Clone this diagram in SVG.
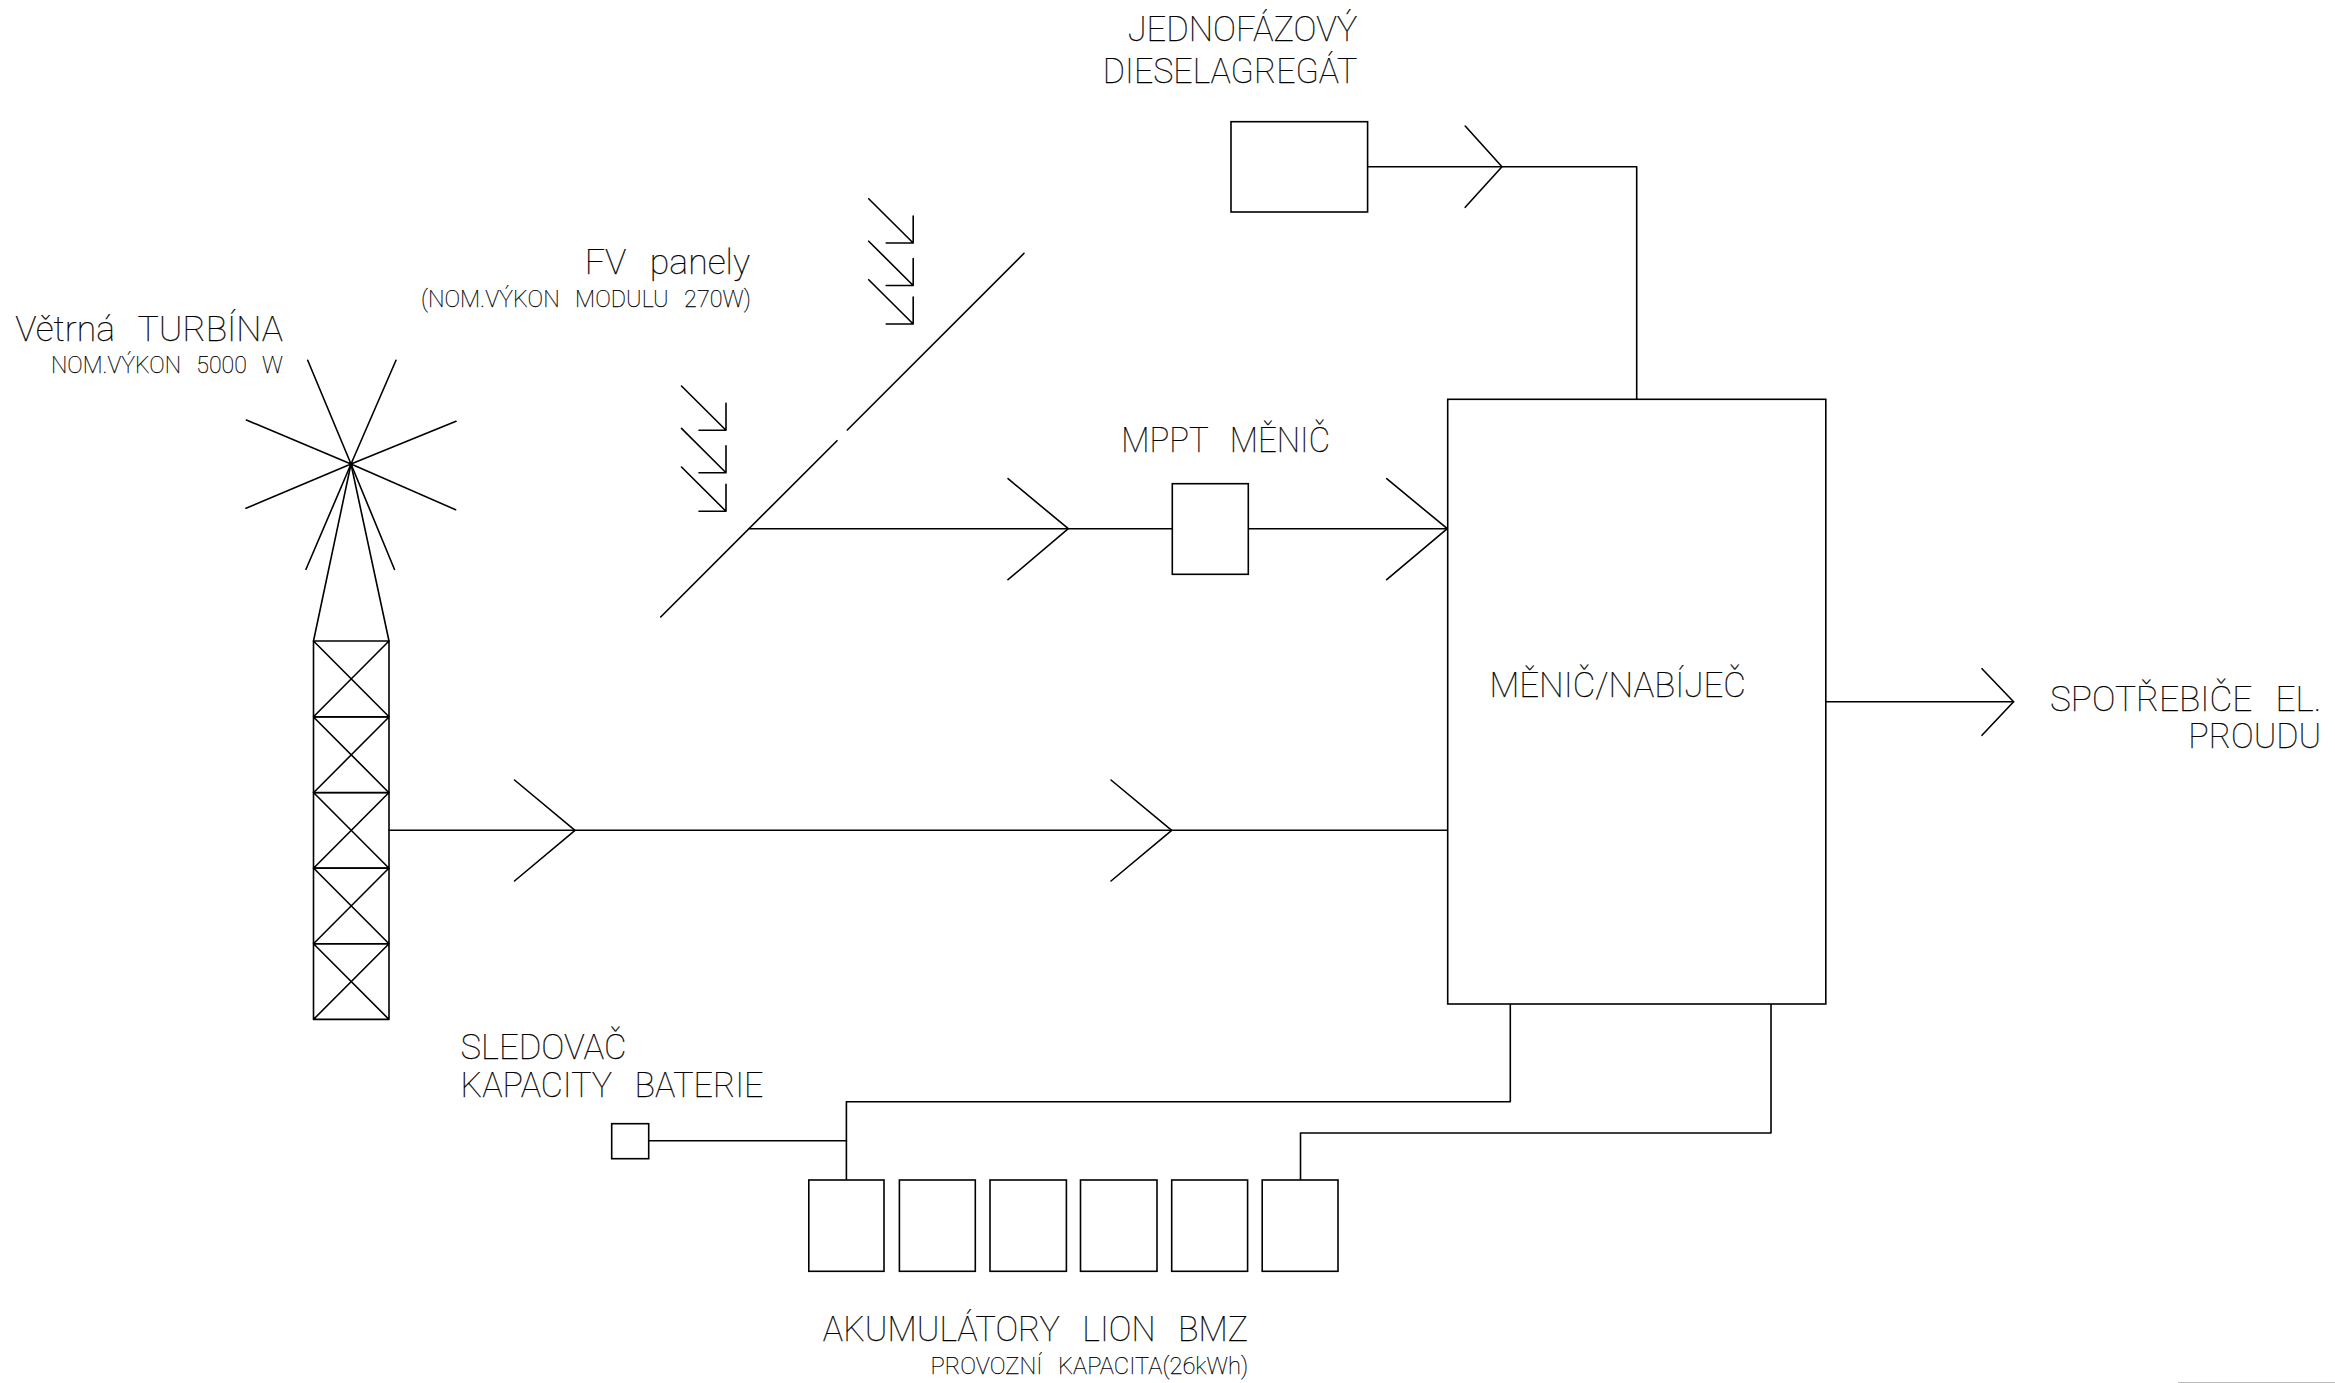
<svg xmlns="http://www.w3.org/2000/svg" width="2335" height="1383" viewBox="0 0 2335 1383">
<style>
.s{fill:none;stroke:#000;stroke-width:1.6;stroke-linecap:round;stroke-linejoin:round}
.b{fill:#fff;stroke:#000;stroke-width:1.6}
text{font-family:"Roboto","Liberation Sans",sans-serif;font-weight:100;fill:#000;stroke:#000;stroke-width:.25;word-spacing:.42em}
.l{font-size:34.5px}
.m{font-size:23px}
</style>
<defs>
<path id="sun" class="s" d="M0 0L44.5 44.3V17.3M44.5 44.3H17.5"/>
<path id="cell" class="s" d="M0 0H75.5V75.7H0ZM0 0L75.5 75.7M75.5 0L0 75.7"/>
</defs>
<rect width="2335" height="1383" fill="#fff"/>
<g id="connectors">
<path class="s" d="M389 830.3H1447.7"/>
<path class="s" d="M514.5 780L575 830.3L514.5 881"/>
<path class="s" d="M1111 780L1171.7 830.3L1111 881"/>
<path class="s" d="M749 528.7H1172.3"/>
<path class="s" d="M1008 478.7L1068.3 528.7L1008 579.7"/>
<path class="s" d="M1248.3 528.7H1447.5"/>
<path class="s" d="M1386.7 478.7L1447.3 528.7L1386.7 579.7"/>
<path class="s" d="M1367.6 166.7H1636.7V399.3"/>
<path class="s" d="M1465.2 126L1502 166.7L1465.2 207.3"/>
<path class="s" d="M1825.8 701.7H2013.6"/>
<path class="s" d="M1982 668.7L2013.6 701.7L1982 735.3"/>
<path class="s" d="M1510.3 1004V1101.7H846.4V1180"/>
<path class="s" d="M648.7 1140.7H846.4"/>
<path class="s" d="M1771 1004V1133H1300.5V1180"/>
</g>
<g id="turbine">
<path class="s" d="M351 464L307.7 360.3M351 464L396 360.3M351 464L246.4 420M351 464L456 421.3M351 464L246 508.3M351 464L455.6 509.7M351 464L306 569.3M351 464L394.4 569.3"/>
<path class="s" d="M313.5 641L351 464L389 641"/>
<use href="#cell" x="313.5" y="641"/>
<use href="#cell" x="313.5" y="717"/>
<use href="#cell" x="313.5" y="792.5"/>
<use href="#cell" x="313.5" y="868"/>
<use href="#cell" x="313.5" y="943.7"/>
<text class="l" x="15.3" y="341" textLength="267.7" lengthAdjust="spacingAndGlyphs">Větrná TURBÍNA</text>
<text class="m" x="51" y="373.3" textLength="232" lengthAdjust="spacingAndGlyphs">NOM.VÝKON 5000 W</text>
</g>
<g id="pv-panels">
<path class="s" d="M660.7 617L837 440.7M847.3 430L1024 253.3"/>
<use href="#sun" x="868.7" y="198.7"/>
<use href="#sun" x="868.7" y="241.2"/>
<use href="#sun" x="868.7" y="279.7"/>
<use href="#sun" x="681.5" y="386"/>
<use href="#sun" x="681.5" y="428.4"/>
<use href="#sun" x="681.5" y="467"/>
<text class="l" x="584.7" y="274" textLength="165.3" lengthAdjust="spacingAndGlyphs">FV panely</text>
<text class="m" x="421" y="306.7" textLength="330" lengthAdjust="spacingAndGlyphs">(NOM.VÝKON MODULU 270W)</text>
</g>
<g id="diesel">
<rect class="b" x="1231" y="121.7" width="136.6" height="90.3"/>
<text class="l" x="1127.7" y="41" textLength="229.6" lengthAdjust="spacingAndGlyphs">JEDNOFÁZOVÝ</text>
<text class="l" x="1102.8" y="83.3" textLength="254.5" lengthAdjust="spacingAndGlyphs">DIESELAGREGÁT</text>
</g>
<g id="mppt">
<rect class="b" x="1172.3" y="483.7" width="76" height="90.6"/>
<text class="l" x="1121.3" y="452" textLength="208.7" lengthAdjust="spacingAndGlyphs">MPPT MĚNIČ</text>
</g>
<g id="inverter">
<rect class="b" x="1447.7" y="399.3" width="378.1" height="604.7"/>
<text class="l" x="1489.4" y="697.3" textLength="256.5" lengthAdjust="spacingAndGlyphs">MĚNIČ/NABÍJEČ</text>
</g>
<g id="loads">
<text class="l" x="2050" y="710.7" textLength="271.3" lengthAdjust="spacingAndGlyphs">SPOTŘEBIČE EL.</text>
<text class="l" x="2188.3" y="748" textLength="133" lengthAdjust="spacingAndGlyphs">PROUDU</text>
</g>
<g id="monitor">
<rect class="b" x="611.7" y="1123.7" width="37" height="35"/>
<text class="l" x="460.6" y="1059.3" textLength="165.8" lengthAdjust="spacingAndGlyphs">SLEDOVAČ</text>
<text class="l" x="460.6" y="1097" textLength="302.9" lengthAdjust="spacingAndGlyphs">KAPACITY BATERIE</text>
</g>
<g id="batteries">
<rect class="b" x="808.8" y="1180" width="75.2" height="91.3"/>
<rect class="b" x="899.4" y="1180" width="75.9" height="91.3"/>
<rect class="b" x="990" y="1180" width="76.4" height="91.3"/>
<rect class="b" x="1080.5" y="1180" width="76.5" height="91.3"/>
<rect class="b" x="1171.7" y="1180" width="75.9" height="91.3"/>
<rect class="b" x="1262.2" y="1180" width="75.8" height="91.3"/>
<text class="l" x="822.8" y="1341.3" textLength="425.4" lengthAdjust="spacingAndGlyphs">AKUMULÁTORY LION BMZ</text>
<text class="m" x="930.6" y="1374.3" textLength="317.6" lengthAdjust="spacingAndGlyphs">PROVOZNÍ KAPACITA(26kWh)</text>
</g>
<path d="M2178 1382.5H2335" fill="none" stroke="#bbb" stroke-width="1"/>
</svg>
